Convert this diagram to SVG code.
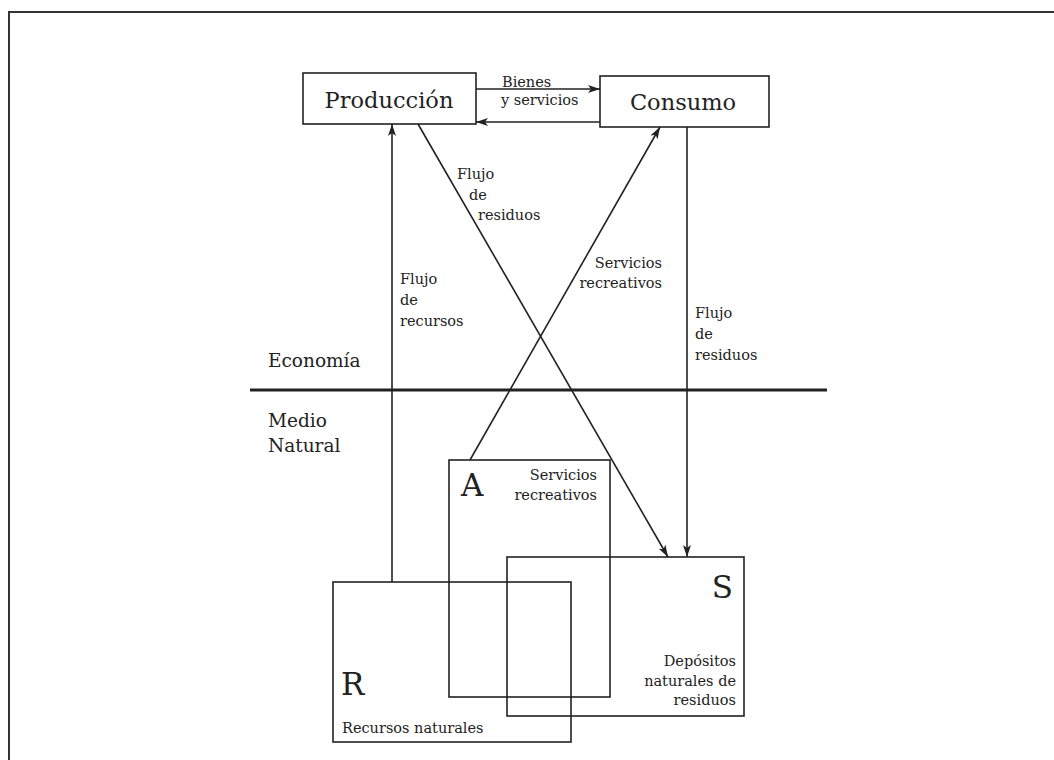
<svg xmlns="http://www.w3.org/2000/svg" width="1054" height="760" viewBox="0 0 1054 760">
<style>
.box{fill:none;stroke:#222;stroke-width:1.6}
.ln{fill:none;stroke:#222;stroke-width:1.6}
.t{font-family:"DejaVu Serif","Liberation Serif",serif;fill:#222;font-size:14.5px}
.big{font-family:"DejaVu Serif","Liberation Serif",serif;fill:#222;font-size:22.5px}
.sec{font-family:"DejaVu Serif","Liberation Serif",serif;fill:#222;font-size:18.5px}
.let{font-family:"DejaVu Serif","Liberation Serif",serif;fill:#222;font-size:31px}
</style>
<defs>
<marker id="ah" viewBox="0 0 12 8" refX="12" refY="4" markerWidth="12" markerHeight="8" markerUnits="userSpaceOnUse" orient="auto">
<path d="M0,0 L12,4 L0,8 L3,4 z" fill="#222"/>
</marker>
</defs>
<rect width="1054" height="760" fill="#fff"/>
<path d="M9,760 V12 H1054" fill="none" stroke="#333" stroke-width="2"/>

<g id="produccion">
<rect class="box" x="303" y="73" width="173" height="51"/>
<text class="big" x="389" y="108" text-anchor="middle">Producción</text>
</g>
<g id="consumo">
<rect class="box" x="600" y="76" width="169" height="51"/>
<text class="big" x="683" y="110" text-anchor="middle">Consumo</text>
</g>

<g id="division">
<line x1="250" y1="390" x2="827" y2="390" stroke="#222" stroke-width="3"/>
<text class="sec" x="268" y="367">Economía</text>
<text class="sec" x="268" y="427">Medio</text>
<text class="sec" x="268" y="452">Natural</text>
</g>

<g id="A">
<rect class="box" x="449" y="460" width="161" height="237"/>
<text class="let" x="461" y="496">A</text>
<text class="t" x="597" y="480" text-anchor="end">Servicios</text>
<text class="t" x="597" y="500" text-anchor="end">recreativos</text>
</g>
<g id="S">
<rect class="box" x="507" y="557" width="237" height="159"/>
<text class="let" x="733" y="598" text-anchor="end">S</text>
<text class="t" x="736" y="666" text-anchor="end">Depósitos</text>
<text class="t" x="736" y="686" text-anchor="end">naturales de</text>
<text class="t" x="736" y="705" text-anchor="end">residuos</text>
</g>
<g id="R">
<rect class="box" x="333" y="582" width="238" height="160"/>
<text class="let" x="341" y="695">R</text>
<text class="t" x="342" y="733">Recursos naturales</text>
</g>

<g id="connectors">
<line class="ln" x1="476" y1="89" x2="600" y2="89" marker-end="url(#ah)"/>
<line class="ln" x1="600" y1="122" x2="476" y2="122" marker-end="url(#ah)"/>
<line class="ln" x1="392" y1="582" x2="392" y2="124" marker-end="url(#ah)"/>
<line class="ln" x1="418" y1="124" x2="668" y2="557" marker-end="url(#ah)"/>
<line class="ln" x1="470" y1="460" x2="660" y2="127" marker-end="url(#ah)"/>
<line class="ln" x1="687" y1="127" x2="687" y2="557" marker-end="url(#ah)"/>
</g>

<g id="labels">
<text class="t" x="502" y="87">Bienes</text>
<text class="t" x="501" y="105">y servicios</text>
<text class="t" x="457" y="179">Flujo</text>
<text class="t" x="469" y="200">de</text>
<text class="t" x="478" y="220">residuos</text>
<text class="t" x="662" y="268" text-anchor="end">Servicios</text>
<text class="t" x="662" y="288" text-anchor="end">recreativos</text>
<text class="t" x="400" y="284">Flujo</text>
<text class="t" x="400" y="305">de</text>
<text class="t" x="400" y="326">recursos</text>
<text class="t" x="695" y="318">Flujo</text>
<text class="t" x="695" y="339">de</text>
<text class="t" x="695" y="360">residuos</text>
</g>
</svg>
